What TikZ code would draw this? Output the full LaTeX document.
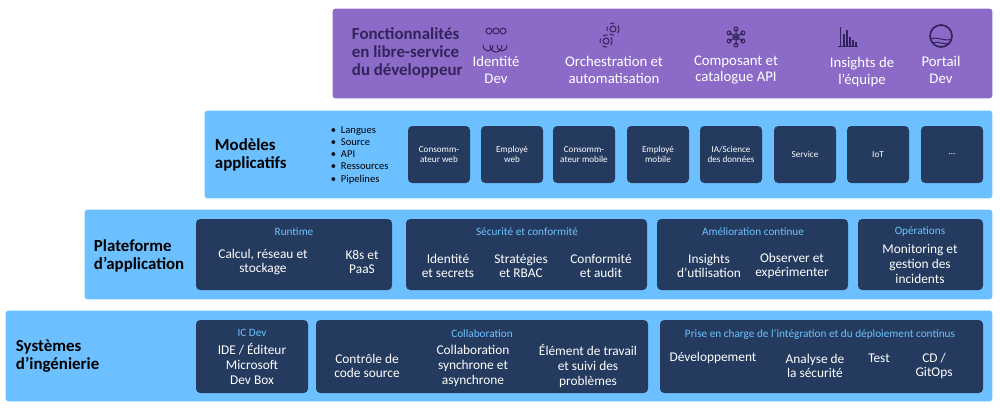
\documentclass[tikz,border=0pt]{standalone}
\usepackage{fontspec}
\setmainfont{Carlito}
\definecolor{purp}{HTML}{8B6BC7}
\definecolor{purptxt}{HTML}{33235A}
\definecolor{sky}{HTML}{6CC0FF}
\definecolor{navy}{HTML}{243A5E}
\definecolor{head}{HTML}{6CC4FF}
\tikzset{
  band/.style={draw=white, line width=1pt, rounded corners=2pt},
  box/.style={fill=navy, rounded corners=3pt},
  lbl/.style={font=\bfseries\fontsize{12}{13}\selectfont, align=left, anchor=west},
  item/.style={text=white, font=\fontsize{9.5}{10.5}\selectfont, align=center},
  top/.style={item, font=\fontsize{10.5}{12}\selectfont},
  small/.style={text=white, font=\fontsize{6.5}{7.5}\selectfont, align=center},
  hd/.style={text=head, font=\fontsize{8}{9}\selectfont}
}
\begin{document}
\begin{tikzpicture}[x=0.025cm, y=-0.025cm]
\useasboundingbox (0,0) rectangle (1000,409);

% Bands
\fill[purp, band] (332,8) rectangle (993,99);
\fill[sky, band] (204,110) rectangle (993,199);
\fill[sky, band] (84,209) rectangle (993,300);
\fill[sky, band] (5,310) rectangle (993,402);

% Developer self-service row
\node[lbl, text=purptxt] (self) at (347,53) {Fonctionnalités\\en libre-service\\du développeur};
\node[top] (ident) at (496,70) {Identité\\Dev};
\node[top] (orch) at (614,70) {Orchestration et\\automatisation};
\node[top] (comp) at (736,70) {Composant et\\catalogue API};
\node[top] (team) at (862,72) {Insights de\\l’équipe};
\node[top] (portal) at (941,70) {Portail\\Dev};
% icons
\begin{scope}[draw=purptxt, line width=0.7pt]
  \foreach \dx in {-7,0,7} \draw (503+\dx-7,31) circle (3);
  \draw (490,45) arc (180:0:6 and 7) (483,45) arc (180:0:5 and 6) (497,45) arc (180:0:5 and 6);
  \draw (613,29) circle (3) (606,41) circle (3);
  \draw[dashed] (613,29) circle (6) (606,41) circle (6);
  \draw (736,37) circle (3);
  \foreach \a in {30,90,150,210,270,330} \draw (736,37) -- ++(\a:8) circle (2);
  \draw (838,46) -- (858,46) (840,27) -- (840,46);
  \foreach \dx/\h in {843/12,846/16,849/9,852/6,855/4} \draw[fill=purptxt] (\dx,46) rectangle ++(1.5,-\h);
  \draw[line width=1.2pt, fill=purp] (941,36) circle (11);
  \draw (931,39) .. controls (936,36) and (946,42) .. (951,39);
  \draw (932,43) .. controls (937,40) and (945,46) .. (950,43);
\end{scope}

% Application models row
\node[lbl, text=black] (models) at (210,155) {Modèles\\applicatifs};
\node[anchor=west, font=\fontsize{7.5}{8.7}\selectfont, align=left] (list) at (326,155)
  {• \ Langues\\• \ Source\\• \ API\\• \ Ressources\\• \ Pipelines};
\foreach \x/\n/\t in {408/m1/{Consomm-\\ateur web}, 481/m2/{Employé\\web}, 553/m3/{Consomm-\\ateur mobile},
  627/m4/{Employé\\mobile}, 700/m5/{IA/Science\\des données}, 774/m6/{Service}, 847/m7/{IoT}, 921/m8/{…}}
  \fill[box] (\x,126) rectangle ++(62,57)
    node[small, midway] (\n) {\t};

% Application platform row
\node[lbl, text=black] (platform) at (89,256) {Plateforme\\d’application};
\fill[box] (196,219) rectangle (392,290);
\fill[box] (406,219) rectangle (647,290);
\fill[box] (657,219) rectangle (848,290);
\fill[box] (858,219) rectangle (983,290);
\node[hd] (runtime) at (294,232) {Runtime};
\node[item] (calc) at (263,262) {Calcul, réseau et\\stockage};
\node[item] (k8s) at (362,262) {K8s et\\PaaS};
\node[hd] (secu) at (527,232) {Sécurité et conformité};
\node[item] (idsec) at (448,266) {Identité\\et secrets};
\node[item] (rbac) at (521,266) {Stratégies\\et RBAC};
\node[item] (audit) at (601,266) {Conformité\\et audit};
\node[hd] (amel) at (753,232) {Amélioration continue};
\node[item] (usage) at (709,266) {Insights\\d’utilisation};
\node[item] (exp) at (792,266) {Observer et\\expérimenter};
\node[hd] (ops) at (920,232) {Opérations};
\node[item] (mon) at (920,264) {Monitoring et\\gestion des\\incidents};

% Engineering systems row
\node[lbl, text=black] (eng) at (11,356) {Systèmes\\d’ingénierie};
\fill[box] (196,320) rectangle (308,393);
\fill[box] (316,320) rectangle (648,393);
\fill[box] (660,320) rectangle (983,393);
\node[hd] (icdev) at (252,333) {IC Dev};
\node[item] (ide) at (252,364) {IDE / Éditeur\\Microsoft\\Dev Box};
\node[hd] (collab) at (482,334) {Collaboration};
\node[item] (scm) at (367,366) {Contrôle de\\code source};
\node[item] (sync) at (473,366) {Collaboration\\synchrone et\\asynchrone};
\node[item] (work) at (588,366) {Élément de travail\\et suivi des\\problèmes};
\node[hd] (cicd) at (820,334) {Prise en charge de l’intégration et du déploiement continus};
\node[item] (dev) at (713,358) {Développement};
\node[item] (scan) at (815,366) {Analyse de\\la sécurité};
\node[item] (test) at (879,358) {Test};
\node[item] (gitops) at (934,366) {CD /\\GitOps};
\end{tikzpicture}
\end{document}
